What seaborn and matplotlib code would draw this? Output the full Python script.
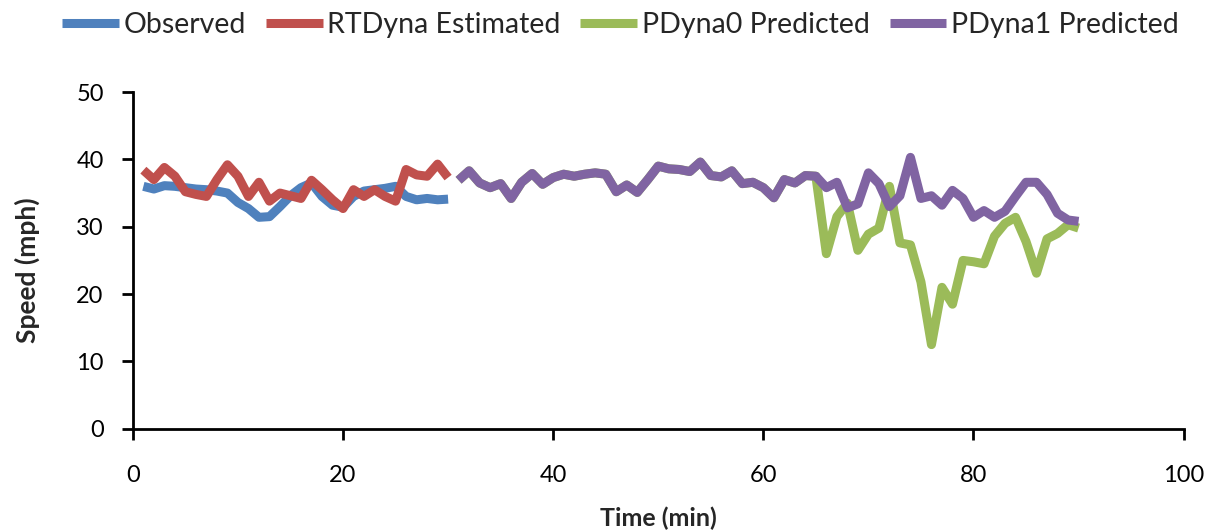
import numpy as np
import pandas as pd
import matplotlib
matplotlib.use("Agg")
import matplotlib.pyplot as plt
import seaborn as sns

# minutes for each series
obs_minutes = list(range(1, 31))
pred_minutes = list(range(31, 91))

# speeds (mph)
observed = [36.0, 35.6, 36.1, 36.0, 35.8, 35.6, 35.5, 35.3, 35.0, 33.6,
            32.7, 31.4, 31.5, 33.0, 34.6, 35.8, 36.5, 34.5, 33.2, 32.9,
            34.5, 35.3, 35.5, 35.7, 36.0, 34.5, 34.0, 34.2, 34.0, 34.1]
rtdyna = [38.4, 37.0, 38.8, 37.5, 35.2, 34.8, 34.5, 37.0, 39.2, 37.5,
          34.5, 36.6, 33.8, 35.0, 34.6, 34.2, 36.9, 35.5, 34.0, 32.7,
          35.5, 34.5, 35.5, 34.5, 33.8, 38.5, 37.7, 37.5, 39.3, 37.3]
pdyna1 = [36.9, 38.3, 36.5, 35.8, 36.4, 34.2, 36.6, 37.9, 36.3, 37.3,
          37.8, 37.5, 37.8, 38.0, 37.8, 35.2, 36.2, 35.1, 37.0, 39.0,
          38.6, 38.5, 38.2, 39.6, 37.6, 37.4, 38.3, 36.4, 36.6, 35.8,
          34.3, 37.0, 36.5, 37.6, 37.5, 35.8, 36.6, 32.8, 33.4, 38.0,
          36.4, 33.0, 34.6, 40.3, 34.2, 34.6, 33.2, 35.4, 34.2, 31.4,
          32.4, 31.4, 32.3, 34.5, 36.6, 36.6, 34.8, 32.0, 31.0, 30.8]
pdyna0 = pdyna1[:35] + [
          26.0, 31.5, 33.5, 26.5, 28.9, 29.8, 36.0, 27.6, 27.3, 21.8,
          12.5, 21.0, 18.5, 25.0, 24.8, 24.5, 28.6, 30.5, 31.4, 27.8,
          23.1, 28.2, 29.0, 30.3, 29.8]

series = {
    "Observed": (obs_minutes, observed, "#4F81BD"),
    "RTDyna Estimated": (obs_minutes, rtdyna, "#C0504D"),
    "PDyna0 Predicted": (pred_minutes, pdyna0, "#9BBB59"),
    "PDyna1 Predicted": (pred_minutes, pdyna1, "#8064A2"),
}

sns.set_style("ticks")
plt.rcParams["font.family"] = ["Lato", "DejaVu Sans"]

fig = plt.figure(figsize=(12.19, 5.32), dpi=100)
ax = fig.add_axes([0.109, 0.194, 0.862, 0.633])

for name, (t, v, c) in series.items():
    df = pd.DataFrame({"minute": t, "speed": v})
    sns.lineplot(data=df, x="minute", y="speed", ax=ax, color=c,
                 linewidth=6.5, label=name, solid_capstyle="butt",
                 solid_joinstyle="round")

ax.set_xlim(0, 100)
ax.set_ylim(0, 50)
ax.set_xticks(range(0, 101, 20))
ax.set_yticks(range(0, 51, 10))
ax.tick_params(axis="both", direction="out", length=8, width=2,
               labelsize=17, colors="black")
ax.tick_params(axis="x", pad=18)
ax.tick_params(axis="y", pad=13)
for side in ["top", "right"]:
    ax.spines[side].set_visible(False)
for side in ["left", "bottom"]:
    ax.spines[side].set_linewidth(2)
    ax.spines[side].set_color("black")

ax.set_xlabel("Time (min)", fontsize=18, fontweight="bold")
ax.set_ylabel("Speed (mph)", fontsize=19, fontweight="bold")
ax.xaxis.set_label_coords(0.5, -0.232)
ax.yaxis.set_label_coords(-0.088, 0.47)

handles, labels = ax.get_legend_handles_labels()
ax.get_legend().remove()
fig.legend(handles, labels, loc="upper center", bbox_to_anchor=(0.509, 1.025),
           ncol=4, frameon=False, fontsize=20.5, handlelength=2.0,
           handletextpad=0.15, columnspacing=0.7)

fig.savefig("out.png", dpi=100)
